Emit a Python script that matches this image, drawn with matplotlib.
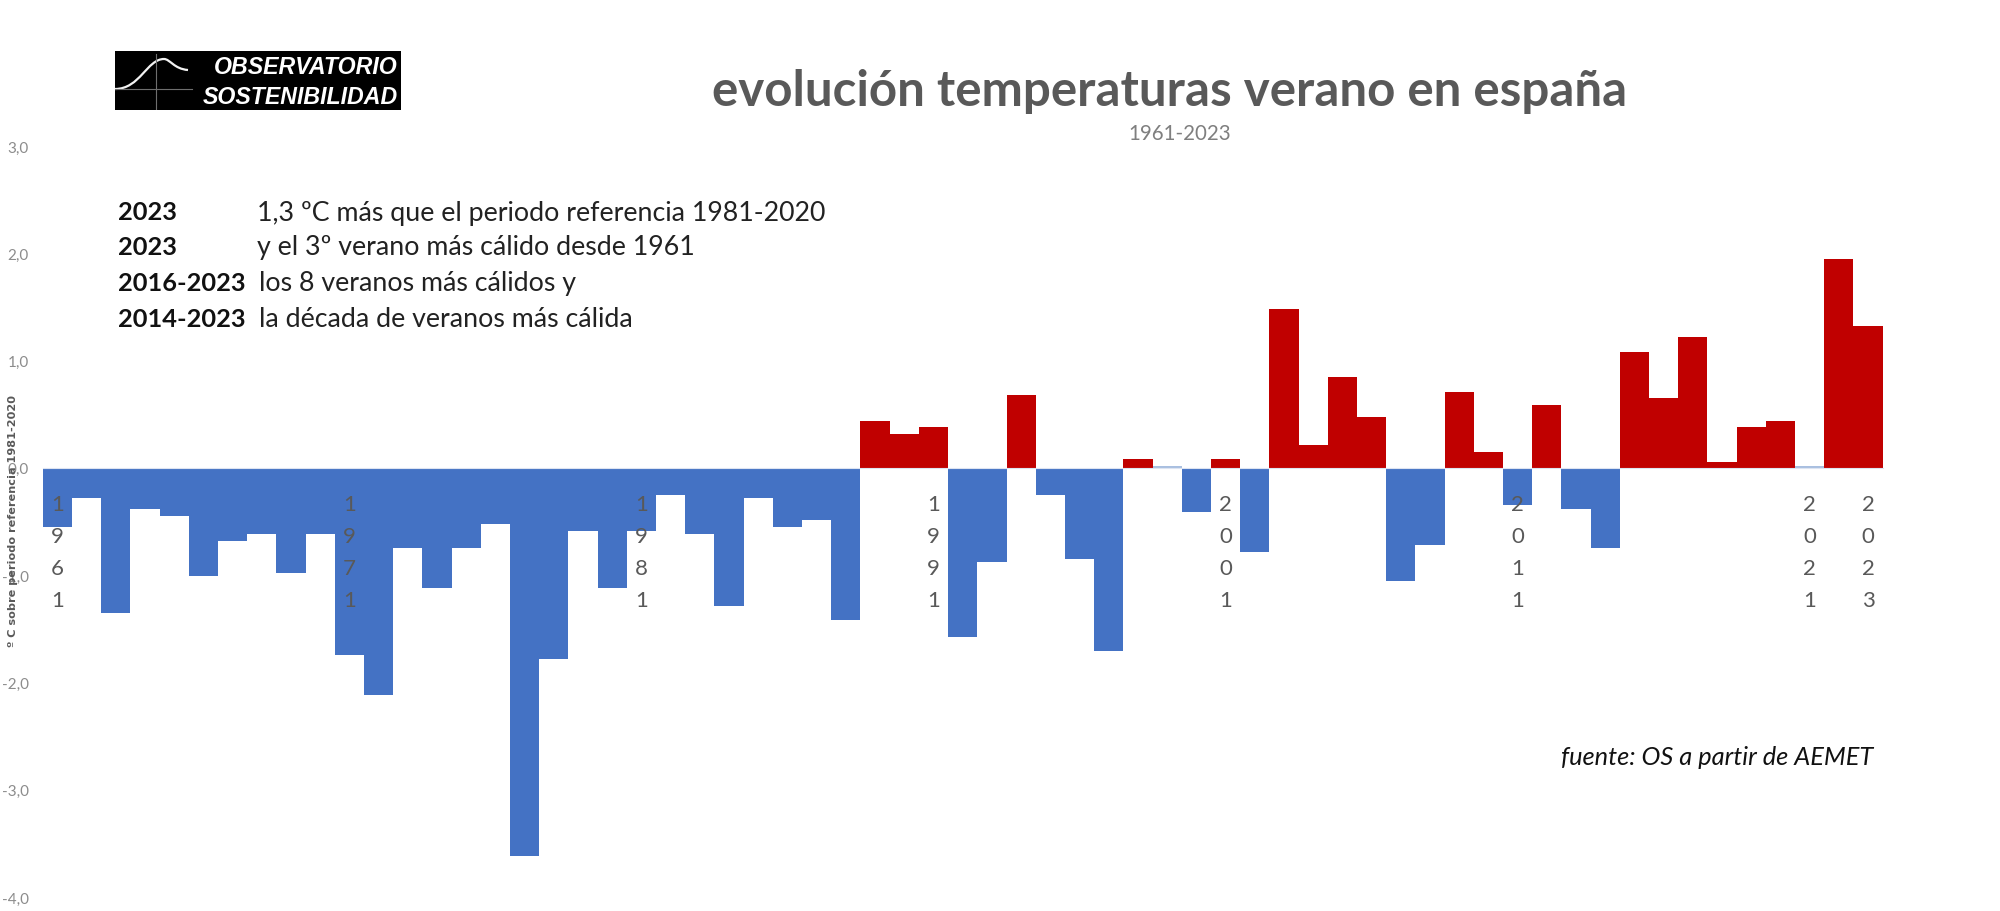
import matplotlib
matplotlib.use('Agg')
import matplotlib.pyplot as plt
from matplotlib.patches import PathPatch
from matplotlib.path import Path

WIDTH = 2000
HEIGHT = 912

years = list(range(1961, 2024))
# anomaly of each summer in degrees C against 1981-2020
anomalies = [
    -0.55, -0.28, -1.35, -0.38, -0.45, -1.01, -0.68, -0.62, -0.98, -0.62,
    -1.74, -2.12, -0.75, -1.12, -0.75, -0.52, -3.62, -1.78, -0.59, -1.12,
    -0.59, -0.25, -0.62, -1.29, -0.28, -0.55, -0.49, -1.42, 0.44, 0.32,
    0.38, -1.58, -0.88, 0.68, -0.25, -0.85, -1.71, 0.08, 0.02, -0.41,
    0.08, -0.78, 1.48, 0.21, 0.85, 0.47, -1.05, -0.72, 0.71, 0.15,
    -0.35, 0.59, -0.38, -0.75, 1.08, 0.65, 1.22, 0.05, 0.38, 0.44,
    0.02, 1.95, 1.32,
]
pale_years = [1999, 2021]

label_years = [1961, 1971, 1981, 1991, 2001, 2011, 2021, 2023]
y_ticks = [3, 2, 1, 0, -1, -2, -3, -4]
y_tick_labels = ['3,0', '2,0', '1,0', '0,0', '-1,0', '-2,0', '-3,0', '-4,0']

note_years = ['2023', '2023', '2016-2023', '2014-2023']
note_texts = [
    '1,3 ºC más que el periodo referencia 1981-2020',
    'y el 3º verano más cálido desde 1961',
    'los 8 veranos más cálidos y',
    'la década de veranos más cálida',
]

BLUE = '#4472C4'
RED = '#C00000'
PALE = '#A9BFE0'
GREY = '#595959'


def px(x, y):
    """Reference pixel position to figure fraction"""
    return x / WIDTH, 1 - y / HEIGHT


def bar_color(year, value):
    if year in pale_years:
        return PALE
    return RED if value > 0 else BLUE


def draw_bars(fig):
    left, bottom = px(42.7, 898)
    ax = fig.add_axes([left, bottom, 1840 / WIDTH, 751 / HEIGHT])
    ax.patch.set_visible(False)

    colors = [bar_color(y, v) for y, v in zip(years, anomalies)]
    ax.bar(years, anomalies, width=1.0, color=colors, linewidth=0)
    ax.set_xlim(1960.5, 2023.5)
    ax.set_ylim(-4, 3)

    for side in ['top', 'right', 'left']:
        ax.spines[side].set_visible(False)
    ax.spines['bottom'].set_position(('data', 0))
    ax.spines['bottom'].set_color('#DDE4F2')
    ax.spines['bottom'].set_linewidth(0.8)
    ax.set_axisbelow(False)

    ax.set_yticks(y_ticks)
    ax.set_yticklabels(y_tick_labels, fontsize=11, color='#8C8C8C', family='Lato')
    ax.tick_params(axis='y', length=0, pad=10)

    # years are written one digit per line, on top of the bars
    ax.set_xticks(label_years)
    ax.set_xticklabels(['\n'.join(str(y)) for y in label_years], fontsize=16,
                       color=GREY, family='Lato', linespacing=1.76)
    ax.tick_params(axis='x', length=0, pad=18.5)

    ax.set_ylabel('º C sobre periodo referencia 1981-2020', fontsize=8.1,
                  fontweight='bold', color=GREY, family='DejaVu Sans')
    ax.yaxis.set_label_coords(*px(18, 521), transform=fig.transFigure)
    return ax


def draw_logo(fig):
    left, bottom = px(115, 111)
    logo = fig.add_axes([left, bottom, 286 / WIDTH, 59 / HEIGHT])
    logo.set_xlim(115, 401)
    logo.set_ylim(111, 52)
    logo.set_facecolor('black')
    logo.set_xticks([])
    logo.set_yticks([])
    for spine in logo.spines.values():
        spine.set_visible(False)

    logo.plot([156, 156], [55, 111], color='#6E6E6E', linewidth=0.8)
    logo.plot([115, 192], [90, 90], color='#6E6E6E', linewidth=0.8)
    curve = Path([(115, 90), (140, 90), (147, 60), (164, 60), (170, 60), (174, 70), (188, 71)],
                 [Path.MOVETO] + [Path.CURVE4] * 6)
    logo.add_patch(PathPatch(curve, facecolor='none', edgecolor='#F2F2F2', linewidth=1.6))

    for text, y in [('OBSERVATORIO', 68), ('SOSTENIBILIDAD', 97)]:
        logo.text(398, y, text, color='white', fontsize=16.7, fontweight='bold',
                  fontstyle='italic', family='Liberation Sans', ha='right', va='center')


def draw_texts(fig):
    x, y = px(1170, 92)
    fig.text(x, y, 'evolución temperaturas verano en españa', fontsize=35.5, fontweight='bold',
             color=GREY, family='Lato', ha='center', va='center')
    x, y = px(1180, 134)
    fig.text(x, y, '1961-2023', fontsize=14.8, color='#7F7F7F', family='Lato', ha='center', va='center')

    line_y = [213, 248, 284, 320]
    text_x = [257, 257, 259, 259]
    for year, note, ly, tx in zip(note_years, note_texts, line_y, text_x):
        x, y = px(118, ly)
        fig.text(x, y, year, fontsize=18.3, fontweight='bold', color='#111111', family='Lato', va='center')
        x, y = px(tx, ly)
        fig.text(x, y, note, fontsize=19.3, color='#222222', family='Lato', va='center')

    x, y = px(1873, 758)
    fig.text(x, y, 'fuente: OS a partir de AEMET', fontsize=18.3, fontstyle='italic',
             color='#111111', family='Lato', ha='right', va='center')


def main():
    fig = plt.figure(figsize=(WIDTH / 100, HEIGHT / 100), dpi=100, facecolor='white')
    draw_bars(fig)
    draw_logo(fig)
    draw_texts(fig)
    fig.savefig('out.png', dpi=100)


if __name__ == '__main__':
    main()
